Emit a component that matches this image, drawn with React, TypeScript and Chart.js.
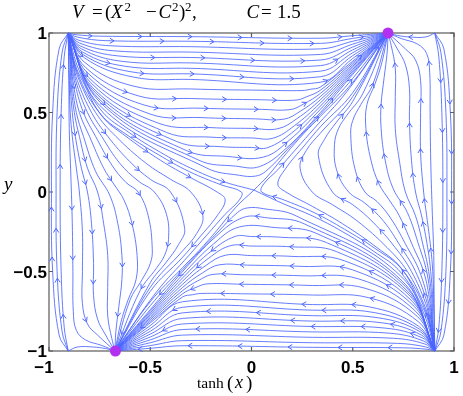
import { useEffect, useRef } from 'react';
import { Chart, registerables } from 'chart.js';

Chart.register(...registerables);

// ---- axis ticks ----
const xTicks = [-1, -0.5, 0, 0.5, 1];
const xTickLabels = ['−1', '−0.5', '0', '0.5', '1'];
const yTicks = [1, 0.5, 0, -0.5, -1];
const yTickLabels = ['1', '0.5', '0', '−0.5', '−1'];

// ---- attractors (purple dots) ----
const attractors = [[0.674, 1], [-0.672, -1]];

// ---- streamlines: [tanh(x), y] ----
// top band: from top-left node to upper attractor
const A1 = [[-0.905,1],[-0.866,0.989],[-0.75,0.98],[-0.3,0.977],[0.34,0.967],[0.5,0.983],[0.674,1]];
const A2 = [[-0.905,1],[-0.859,0.974],[-0.72,0.952],[-0.3,0.948],[0.34,0.935],[0.5,0.966],[0.674,1]];
const A3 = [[-0.905,1],[-0.854,0.955],[-0.7,0.92],[-0.3,0.914],[0.34,0.9],[0.5,0.948],[0.674,1]];
const A4 = [[-0.905,1],[-0.849,0.937],[-0.68,0.888],[-0.3,0.88],[0.34,0.865],[0.5,0.93],[0.674,1]];
const A5 = [[-0.905,1],[-0.844,0.918],[-0.66,0.856],[-0.3,0.846],[0.34,0.83],[0.5,0.912],[0.674,1]];
const A6 = [[-0.905,1],[-0.839,0.9],[-0.64,0.822],[-0.3,0.812],[0.34,0.795],[0.5,0.894],[0.674,1]];
const A7 = [[-0.905,1],[-0.834,0.88],[-0.62,0.79],[-0.3,0.778],[0.34,0.76],[0.5,0.876],[0.674,1]];
const A8 = [[-0.905,1],[-0.829,0.862],[-0.6,0.757],[-0.3,0.743],[0.34,0.725],[0.5,0.858],[0.674,1]];
const A9 = [[-0.905,1],[-0.824,0.843],[-0.58,0.722],[-0.3,0.708],[0.34,0.69],[0.5,0.84],[0.674,1]];
const A10 = [[-0.905,1],[-0.824,0.816],[-0.58,0.665],[-0.3,0.648],[0.05,0.64],[0.25,0.638],[0.29,0.646],[0.34,0.66],[0.5,0.823],[0.674,1]];
const A11 = [[-0.905,1],[-0.819,0.783],[-0.56,0.605],[-0.3,0.588],[0.05,0.58],[0.22,0.578],[0.274,0.6],[0.34,0.64],[0.5,0.813],[0.674,1]];
const A12 = [[-0.905,1],[-0.811,0.751],[-0.53,0.547],[-0.25,0.527],[0.05,0.52],[0.19,0.518],[0.258,0.554],[0.34,0.62],[0.5,0.802],[0.674,1]];
const A13 = [[-0.905,1],[-0.804,0.72],[-0.5,0.49],[-0.25,0.468],[0.02,0.46],[0.16,0.458],[0.241,0.508],[0.34,0.6],[0.5,0.792],[0.674,1]];
const A14 = [[-0.905,1],[-0.794,0.688],[-0.46,0.433],[-0.2,0.405],[0,0.4],[0.13,0.398],[0.225,0.462],[0.34,0.58],[0.5,0.782],[0.674,1]];
const A15 = [[-0.905,1],[-0.784,0.656],[-0.42,0.375],[-0.2,0.345],[0,0.34],[0.105,0.338],[0.211,0.416],[0.34,0.56],[0.5,0.771],[0.674,1]];
const A16 = [[-0.905,1],[-0.771,0.625],[-0.37,0.318],[-0.15,0.285],[0,0.28],[0.08,0.279],[0.197,0.37],[0.34,0.54],[0.5,0.761],[0.674,1]];
const A17 = [[-0.905,1],[-0.759,0.593],[-0.32,0.26],[-0.12,0.224],[0.06,0.22],[0.186,0.325],[0.34,0.52],[0.5,0.75],[0.674,1]];
const A18 = [[-0.905,1],[-0.744,0.56],[-0.26,0.2],[-0.08,0.163],[0.04,0.16],[0.175,0.279],[0.34,0.5],[0.5,0.74],[0.674,1]];
const A19 = [[-0.905,1],[-0.742,0.535],[-0.22,0.15],[-0.06,0.105],[0.02,0.1],[0.07,0.13],[0.17,0.258],[0.34,0.488],[0.5,0.715],[0.674,1]];
const S1 = [[-0.905,1],[-0.85,0.76],[-0.74,0.51],[-0.6,0.37],[-0.45,0.25],[-0.3,0.15],[-0.15,0.07],[0.012,0.012]];
const U1 = [[0.012,0.012],[0.08,0.1],[0.17,0.24],[0.26,0.37],[0.34,0.475],[0.5,0.69],[0.674,1]];

// right side: from bottom-right node up to upper attractor
const C0 = [[0.905,-1],[0.86,-0.75],[0.745,-0.49],[0.61,-0.355],[0.46,-0.235],[0.31,-0.13],[0.15,-0.045],[0.05,0],[0.06,0.05],[0.13,0.14],[0.22,0.27],[0.31,0.4],[0.47,0.63],[0.674,1]];
const C1 = [[0.905,-1],[0.87,-0.8],[0.835,-0.7],[0.74,-0.48],[0.62,-0.35],[0.45,-0.2],[0.3,-0.09],[0.17,0],[0.13,0.05],[0.17,0.15],[0.26,0.29],[0.34,0.41],[0.5,0.625],[0.674,1]];
const C2 = [[0.905,-1],[0.875,-0.8],[0.85,-0.7],[0.77,-0.5],[0.67,-0.35],[0.52,-0.18],[0.4,-0.08],[0.3,0],[0.24,0.15],[0.27,0.26],[0.34,0.37],[0.5,0.6],[0.674,1]];
const C3 = [[0.905,-1],[0.878,-0.8],[0.86,-0.7],[0.79,-0.5],[0.71,-0.35],[0.6,-0.19],[0.5,-0.08],[0.4,0],[0.33,0.23],[0.36,0.33],[0.42,0.44],[0.5,0.57],[0.674,1]];
const C4 = [[0.905,-1],[0.88,-0.8],[0.868,-0.7],[0.81,-0.5],[0.74,-0.35],[0.65,-0.18],[0.56,-0.07],[0.48,0],[0.42,0.14],[0.41,0.3],[0.43,0.4],[0.47,0.48],[0.55,0.62],[0.674,1]];
const C5 = [[0.905,-1],[0.885,-0.8],[0.875,-0.7],[0.83,-0.5],[0.77,-0.35],[0.69,-0.17],[0.62,-0.06],[0.56,0],[0.51,0.15],[0.49,0.36],[0.5,0.45],[0.54,0.55],[0.6,0.68],[0.674,1]];
const C6 = [[0.905,-1],[0.888,-0.8],[0.882,-0.7],[0.85,-0.5],[0.8,-0.35],[0.73,-0.15],[0.68,-0.05],[0.63,0.05],[0.59,0.2],[0.565,0.4],[0.57,0.55],[0.61,0.68],[0.645,0.82],[0.674,1]];
const C7 = [[0.905,-1],[0.89,-0.8],[0.887,-0.7],[0.865,-0.5],[0.83,-0.35],[0.77,-0.13],[0.7,0.02],[0.66,0.2],[0.64,0.4],[0.64,0.55],[0.655,0.72],[0.67,0.88],[0.674,1]];
const C8 = [[0.905,-1],[0.893,-0.8],[0.892,-0.7],[0.875,-0.5],[0.85,-0.35],[0.81,-0.15],[0.76,0],[0.73,0.2],[0.71,0.4],[0.71,0.6],[0.71,0.78],[0.69,0.92],[0.674,1]];
const C9 = [[0.905,-1],[0.896,-0.8],[0.896,-0.7],[0.885,-0.5],[0.87,-0.35],[0.84,-0.15],[0.81,0],[0.79,0.2],[0.78,0.45],[0.78,0.65],[0.76,0.8],[0.72,0.9],[0.674,1]];
const C10 = [[0.905,-1],[0.9,-0.7],[0.895,-0.5],[0.885,-0.35],[0.865,-0.15],[0.85,0],[0.835,0.25],[0.835,0.5],[0.835,0.7],[0.81,0.83],[0.76,0.9],[0.674,1]];
const C11 = [[0.905,-1],[0.902,-0.7],[0.9,-0.4],[0.892,-0.1],[0.885,0.2],[0.882,0.5],[0.88,0.75],[0.865,0.87],[0.82,0.93],[0.74,0.965],[0.674,1]];
const R1 = [[0.905,1],[0.86,0.975],[0.78,0.975],[0.72,0.985],[0.674,1]];
const E1 = [[0.905,1],[0.925,0.85],[0.94,0.5],[0.945,0],[0.94,-0.5],[0.925,-0.85],[0.905,-1]];
const E2 = [[0.905,1],[0.935,0.88],[0.96,0.5],[0.965,0],[0.96,-0.5],[0.935,-0.88],[0.905,-1]];
const E3 = [[0.905,1],[0.95,0.9],[0.982,0.5],[0.988,0],[0.982,-0.5],[0.95,-0.9],[0.905,-1]];

// bottom band: from bottom-right node to lower attractor
const B1 = [[0.905,-1],[0.866,-0.989],[0.75,-0.98],[0.3,-0.977],[-0.34,-0.967],[-0.5,-0.983],[-0.674,-1]];
const B2 = [[0.905,-1],[0.859,-0.974],[0.72,-0.952],[0.3,-0.948],[-0.34,-0.935],[-0.5,-0.966],[-0.674,-1]];
const B3 = [[0.905,-1],[0.854,-0.955],[0.7,-0.92],[0.3,-0.914],[-0.34,-0.9],[-0.5,-0.948],[-0.674,-1]];
const B4 = [[0.905,-1],[0.849,-0.937],[0.68,-0.888],[0.3,-0.88],[-0.34,-0.865],[-0.5,-0.93],[-0.674,-1]];
const B5 = [[0.905,-1],[0.844,-0.918],[0.66,-0.856],[0.3,-0.846],[-0.34,-0.83],[-0.5,-0.912],[-0.674,-1]];
const B6 = [[0.905,-1],[0.839,-0.9],[0.64,-0.822],[0.3,-0.812],[-0.34,-0.795],[-0.5,-0.894],[-0.674,-1]];
const B7 = [[0.905,-1],[0.834,-0.88],[0.62,-0.79],[0.3,-0.778],[-0.34,-0.76],[-0.5,-0.876],[-0.674,-1]];
const B8 = [[0.905,-1],[0.829,-0.862],[0.6,-0.757],[0.3,-0.743],[-0.34,-0.725],[-0.5,-0.858],[-0.674,-1]];
const B9 = [[0.905,-1],[0.824,-0.843],[0.58,-0.722],[0.3,-0.708],[-0.34,-0.69],[-0.5,-0.84],[-0.674,-1]];
const B10 = [[0.905,-1],[0.824,-0.816],[0.58,-0.665],[0.3,-0.648],[-0.05,-0.64],[-0.25,-0.638],[-0.29,-0.646],[-0.34,-0.66],[-0.5,-0.823],[-0.674,-1]];
const B11 = [[0.905,-1],[0.819,-0.783],[0.56,-0.605],[0.3,-0.588],[-0.05,-0.58],[-0.22,-0.578],[-0.274,-0.6],[-0.34,-0.64],[-0.5,-0.813],[-0.674,-1]];
const B12 = [[0.905,-1],[0.811,-0.751],[0.53,-0.547],[0.25,-0.527],[-0.05,-0.52],[-0.19,-0.518],[-0.258,-0.554],[-0.34,-0.62],[-0.5,-0.802],[-0.674,-1]];
const B13 = [[0.905,-1],[0.804,-0.72],[0.5,-0.49],[0.25,-0.468],[-0.02,-0.46],[-0.16,-0.458],[-0.241,-0.508],[-0.34,-0.6],[-0.5,-0.792],[-0.674,-1]];
const B14 = [[0.905,-1],[0.794,-0.688],[0.46,-0.433],[0.2,-0.405],[0,-0.4],[-0.13,-0.398],[-0.225,-0.462],[-0.34,-0.58],[-0.5,-0.782],[-0.674,-1]];
const B15 = [[0.905,-1],[0.784,-0.656],[0.42,-0.375],[0.2,-0.345],[0,-0.34],[-0.105,-0.338],[-0.211,-0.416],[-0.34,-0.56],[-0.5,-0.771],[-0.674,-1]];
const B16 = [[0.905,-1],[0.771,-0.625],[0.37,-0.318],[0.15,-0.285],[0,-0.28],[-0.08,-0.279],[-0.197,-0.37],[-0.34,-0.54],[-0.5,-0.761],[-0.674,-1]];
const B17 = [[0.905,-1],[0.759,-0.593],[0.32,-0.26],[0.12,-0.224],[-0.06,-0.22],[-0.186,-0.325],[-0.34,-0.52],[-0.5,-0.75],[-0.674,-1]];
const B18 = [[0.905,-1],[0.744,-0.56],[0.26,-0.2],[0.08,-0.163],[-0.04,-0.16],[-0.175,-0.279],[-0.34,-0.5],[-0.5,-0.74],[-0.674,-1]];
const B19 = [[0.905,-1],[0.742,-0.535],[0.22,-0.15],[0.06,-0.105],[-0.02,-0.1],[-0.07,-0.13],[-0.17,-0.258],[-0.34,-0.488],[-0.5,-0.715],[-0.674,-1]];
const S2 = [[0.905,-1],[0.85,-0.76],[0.74,-0.51],[0.6,-0.37],[0.45,-0.25],[0.3,-0.15],[0.15,-0.07],[0.012,0.012]];
const U2 = [[0.012,0.012],[-0.08,-0.1],[-0.17,-0.24],[-0.26,-0.37],[-0.34,-0.475],[-0.5,-0.69],[-0.674,-1]];

// left side: from top-left node down to lower attractor
const D0 = [[-0.905,1],[-0.86,0.75],[-0.745,0.49],[-0.61,0.355],[-0.46,0.235],[-0.31,0.13],[-0.15,0.045],[-0.05,0],[-0.06,-0.05],[-0.13,-0.14],[-0.22,-0.27],[-0.31,-0.4],[-0.47,-0.63],[-0.674,-1]];
const D1 = [[-0.905,1],[-0.87,0.8],[-0.835,0.7],[-0.74,0.48],[-0.62,0.35],[-0.45,0.2],[-0.3,0.09],[-0.17,0],[-0.13,-0.05],[-0.17,-0.15],[-0.26,-0.29],[-0.34,-0.41],[-0.5,-0.625],[-0.674,-1]];
const D2 = [[-0.905,1],[-0.875,0.8],[-0.85,0.7],[-0.77,0.5],[-0.67,0.35],[-0.52,0.18],[-0.4,0.08],[-0.3,0],[-0.24,-0.15],[-0.27,-0.26],[-0.34,-0.37],[-0.5,-0.6],[-0.674,-1]];
const D3 = [[-0.905,1],[-0.878,0.8],[-0.86,0.7],[-0.79,0.5],[-0.71,0.35],[-0.6,0.19],[-0.5,0.08],[-0.4,0],[-0.33,-0.23],[-0.36,-0.33],[-0.42,-0.44],[-0.5,-0.57],[-0.674,-1]];
const D4 = [[-0.905,1],[-0.88,0.8],[-0.868,0.7],[-0.81,0.5],[-0.74,0.35],[-0.65,0.18],[-0.56,0.07],[-0.48,0],[-0.42,-0.14],[-0.41,-0.3],[-0.43,-0.4],[-0.47,-0.48],[-0.55,-0.62],[-0.674,-1]];
const D5 = [[-0.905,1],[-0.885,0.8],[-0.875,0.7],[-0.83,0.5],[-0.77,0.35],[-0.69,0.17],[-0.62,0.06],[-0.56,0],[-0.51,-0.15],[-0.49,-0.36],[-0.5,-0.45],[-0.54,-0.55],[-0.6,-0.68],[-0.674,-1]];
const D6 = [[-0.905,1],[-0.888,0.8],[-0.882,0.7],[-0.85,0.5],[-0.8,0.35],[-0.73,0.15],[-0.68,0.05],[-0.63,-0.05],[-0.59,-0.2],[-0.565,-0.4],[-0.57,-0.55],[-0.61,-0.68],[-0.645,-0.82],[-0.674,-1]];
const D7 = [[-0.905,1],[-0.89,0.8],[-0.887,0.7],[-0.865,0.5],[-0.83,0.35],[-0.77,0.13],[-0.7,-0.02],[-0.66,-0.2],[-0.64,-0.4],[-0.64,-0.55],[-0.655,-0.72],[-0.67,-0.88],[-0.674,-1]];
const D8 = [[-0.905,1],[-0.893,0.8],[-0.892,0.7],[-0.875,0.5],[-0.85,0.35],[-0.81,0.15],[-0.76,0],[-0.73,-0.2],[-0.71,-0.4],[-0.71,-0.6],[-0.71,-0.78],[-0.69,-0.92],[-0.674,-1]];
const D9 = [[-0.905,1],[-0.896,0.8],[-0.896,0.7],[-0.885,0.5],[-0.87,0.35],[-0.84,0.15],[-0.81,0],[-0.79,-0.2],[-0.78,-0.45],[-0.78,-0.65],[-0.76,-0.8],[-0.72,-0.9],[-0.674,-1]];
const D10 = [[-0.905,1],[-0.9,0.7],[-0.895,0.5],[-0.885,0.35],[-0.865,0.15],[-0.85,0],[-0.835,-0.25],[-0.835,-0.5],[-0.835,-0.7],[-0.81,-0.83],[-0.76,-0.9],[-0.674,-1]];
const D11 = [[-0.905,1],[-0.902,0.7],[-0.9,0.4],[-0.892,0.1],[-0.885,-0.2],[-0.882,-0.5],[-0.88,-0.75],[-0.865,-0.87],[-0.82,-0.93],[-0.74,-0.965],[-0.674,-1]];
const L1 = [[-0.905,-1],[-0.86,-0.975],[-0.78,-0.975],[-0.72,-0.985],[-0.674,-1]];
const W1 = [[-0.905,-1],[-0.925,-0.85],[-0.94,-0.5],[-0.945,0],[-0.94,0.5],[-0.925,0.85],[-0.905,1]];
const W2 = [[-0.905,-1],[-0.935,-0.88],[-0.96,-0.5],[-0.965,0],[-0.96,0.5],[-0.935,0.88],[-0.905,1]];
const W3 = [[-0.905,-1],[-0.95,-0.9],[-0.982,-0.5],[-0.988,0],[-0.982,0.5],[-0.95,0.9],[-0.905,1]];

const streamlines = [
  A1, A2, A3, A4, A5, A6, A7, A8, A9, A10, A11, A12, A13, A14, A15, A16, A17, A18, A19, S1, U1,
  C0, C1, C2, C3, C4, C5, C6, C7, C8, C9, C10, C11, R1, E1, E2, E3,
  B1, B2, B3, B4, B5, B6, B7, B8, B9, B10, B11, B12, B13, B14, B15, B16, B17, B18, B19, S2, U2,
  D0, D1, D2, D3, D4, D5, D6, D7, D8, D9, D10, D11, L1, W1, W2, W3,
];

const LINE = 'rgb(74,102,255)';
const FRAME = '#5a5a5a';
const DOT = '#b231f0';
const SERIF = '"Liberation Serif", "DejaVu Serif", serif';
const SANS = '"Liberation Sans", Arial, sans-serif';

const decor = {
  id: 'decor',
  beforeDatasetsDraw(chart: any) {
    const { ctx, chartArea: a, scales } = chart;
    ctx.save();
    ctx.strokeStyle = FRAME;
    ctx.lineWidth = 1.2;
    ctx.strokeRect(a.left, a.top, a.right - a.left, a.bottom - a.top);
    ctx.beginPath();
    xTicks.forEach((v) => {
      const px = scales.x.getPixelForValue(v);
      ctx.moveTo(px, a.bottom); ctx.lineTo(px, a.bottom - 4);
      ctx.moveTo(px, a.top); ctx.lineTo(px, a.top + 4);
    });
    yTicks.forEach((v) => {
      const py = scales.y.getPixelForValue(v);
      ctx.moveTo(a.left, py); ctx.lineTo(a.left + 4, py);
      ctx.moveTo(a.right, py); ctx.lineTo(a.right - 4, py);
    });
    ctx.stroke();
    ctx.restore();
  },
  afterDatasetsDraw(chart: any) {
    const ctx = chart.ctx;
    const placed: number[][] = [];
    ctx.save();
    ctx.strokeStyle = LINE;
    ctx.lineWidth = 1;
    streamlines.forEach((_, i) => {
      const pts = chart.getDatasetMeta(i).data as any[];
      if (pts.length < 2) return;
      const poly: number[][] = [];
      for (let k = 0; k < pts.length - 1; k++) {
        const p = pts[k], q = pts[k + 1];
        const c1x = p.cp2x ?? p.x, c1y = p.cp2y ?? p.y;
        const c2x = q.cp1x ?? q.x, c2y = q.cp1y ?? q.y;
        for (let s = 0; s < 16; s++) {
          const t = s / 16, u = 1 - t;
          poly.push([
            u * u * u * p.x + 3 * u * u * t * c1x + 3 * u * t * t * c2x + t * t * t * q.x,
            u * u * u * p.y + 3 * u * u * t * c1y + 3 * u * t * t * c2y + t * t * t * q.y,
          ]);
        }
      }
      const last = pts[pts.length - 1];
      poly.push([last.x, last.y]);
      const cum = [0];
      for (let k = 1; k < poly.length; k++) {
        cum.push(cum[k - 1] + Math.hypot(poly[k][0] - poly[k - 1][0], poly[k][1] - poly[k - 1][1]));
      }
      const total = cum[cum.length - 1];
      let target = 24 + ((i * 23) % 36);
      let k = 1;
      while (target < total - 16) {
        while (k < cum.length - 1 && cum[k] < target) k++;
        const f = (target - cum[k - 1]) / Math.max(1e-6, cum[k] - cum[k - 1]);
        const x = poly[k - 1][0] + f * (poly[k][0] - poly[k - 1][0]);
        const y = poly[k - 1][1] + f * (poly[k][1] - poly[k - 1][1]);
        const ok = placed.every(([qx, qy]) => Math.hypot(qx - x, qy - y) > 18);
        if (ok) {
          const ang = Math.atan2(poly[k][1] - poly[k - 1][1], poly[k][0] - poly[k - 1][0]);
          const len = 5, half = 0.55;
          ctx.beginPath();
          ctx.moveTo(x - len * Math.cos(ang - half), y - len * Math.sin(ang - half));
          ctx.lineTo(x, y);
          ctx.lineTo(x - len * Math.cos(ang + half), y - len * Math.sin(ang + half));
          ctx.stroke();
          placed.push([x, y]);
        }
        target += 50;
      }
    });
    ctx.restore();
  },
  afterDraw(chart: any) {
    const { ctx, chartArea: a, scales } = chart;
    ctx.save();
    ctx.fillStyle = '#000';
    ctx.textBaseline = 'alphabetic';
    // tick labels
    ctx.font = `bold 17px ${SANS}`;
    xTicks.forEach((v, i) => {
      const px = scales.x.getPixelForValue(v);
      const s = xTickLabels[i];
      const num = s.replace('−', '');
      const w = ctx.measureText(num).width;
      ctx.textAlign = 'right';
      ctx.fillText(s, px + w / 2, a.bottom + 22);
    });
    yTicks.forEach((v, i) => {
      const py = scales.y.getPixelForValue(v);
      ctx.textAlign = 'right';
      ctx.fillText(yTickLabels[i], a.left - 2, py + 6);
    });
    ctx.textAlign = 'left';
    const put = (s: string, x: number, y: number, font: string) => {
      ctx.font = font;
      ctx.fillText(s, x, y);
    };
    const it = `italic 19px ${SERIF}`;
    const rm = `19px ${SERIF}`;
    const sup = `13px ${SERIF}`;
    // title: V = (X^2 - C^2)^2,  C = 1.5
    put('V', 72, 18, it);
    put('=', 92, 18, rm);
    put('(', 105, 18, rm);
    put('X', 111, 18, it);
    put('2', 124.5, 11, sup);
    put('−', 146, 18, rm);
    put('C', 158.5, 18, it);
    put('2', 172, 11, sup);
    put(')', 179, 18, rm);
    put('2', 185, 11, sup);
    put(',', 192, 18, rm);
    put('C', 246.5, 18, it);
    put('=', 261, 18, rm);
    put('1.5', 277, 18, rm);
    // y label
    put('y', 4, 190, it);
    // x label: tanh (x)
    put('tanh', 197, 388, `15.5px ${SERIF}`);
    put('(', 227, 389, `19px ${SERIF}`);
    put('x', 235, 388, `italic 18px ${SERIF}`);
    put(')', 246, 389, `19px ${SERIF}`);
    ctx.restore();
  },
};

export default function App() {
  const ref = useRef<HTMLCanvasElement>(null);
  useEffect(() => {
    const canvas = ref.current;
    if (!canvas) return;
    const datasets: any[] = streamlines.map((pts) => ({
      data: pts.map(([x, y]) => ({ x, y })),
      showLine: true,
      borderColor: LINE,
      borderWidth: 0.85,
      pointRadius: 0,
      pointHoverRadius: 0,
      tension: 0.4,
      fill: false,
      clip: 2,
    }));
    datasets.push({
      data: attractors.map(([x, y]) => ({ x, y })),
      showLine: false,
      pointRadius: 5.5,
      pointHoverRadius: 5.5,
      backgroundColor: DOT,
      borderWidth: 0,
      clip: false,
      order: -1,
    });
    const chart = new Chart(canvas, {
      type: 'scatter',
      data: { datasets },
      options: {
        animation: false,
        responsive: false,
        events: [],
        layout: { padding: { left: 49, right: 9, top: 33, bottom: 45 } },
        plugins: { legend: { display: false }, tooltip: { enabled: false }, title: { display: false } },
        scales: {
          x: { type: 'linear', min: -1, max: 1, display: false },
          y: { type: 'linear', min: -1, max: 1, display: false },
        },
      },
      plugins: [decor],
    });
    return () => chart.destroy();
  }, []);
  return (
    <div style={{ position: 'fixed', left: 0, top: 0, width: 463, height: 396, background: '#fff' }}>
      <canvas ref={ref} width={463} height={396} style={{ display: 'block' }} />
    </div>
  );
}
